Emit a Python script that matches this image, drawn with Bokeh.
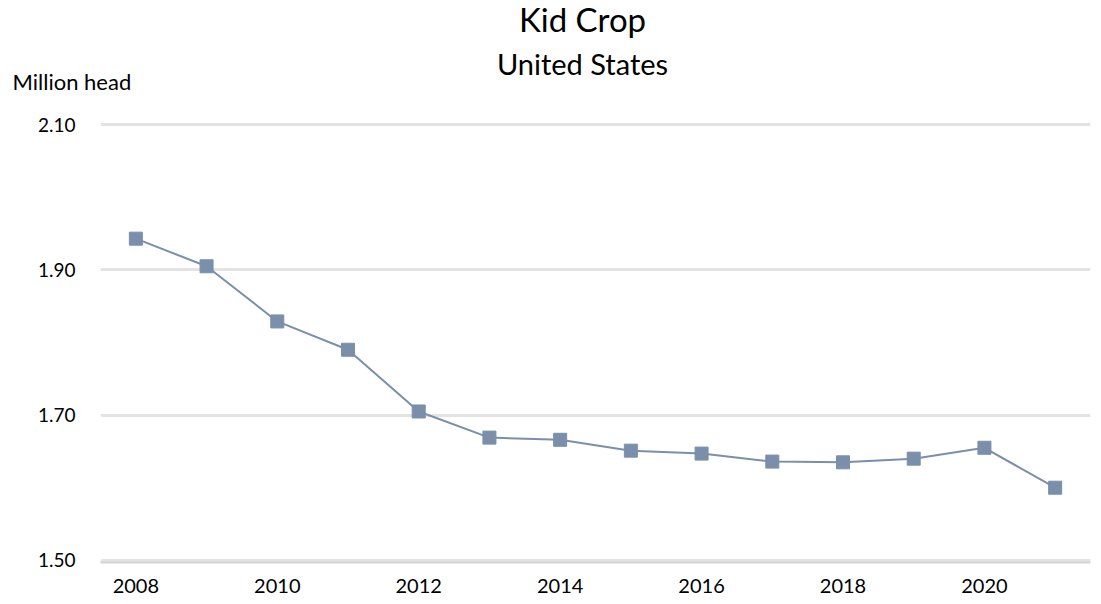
from bokeh.plotting import figure
from bokeh.models import Range1d, FixedTicker, Label, PrintfTickFormatter
from bokeh.embed import file_html
from bokeh.resources import INLINE

years = [2008, 2009, 2010, 2011, 2012, 2013, 2014, 2015, 2016, 2017, 2018, 2019, 2020, 2021]
kid_crop = [1.943, 1.905, 1.829, 1.790, 1.705, 1.669, 1.666, 1.651, 1.647, 1.636, 1.635, 1.640, 1.655, 1.600]
x_ticks = [2008, 2010, 2012, 2014, 2016, 2018, 2020]
y_ticks = [1.50, 1.70, 1.90, 2.10]
title_text = "Kid Crop"
subtitle_text = "United States"
unit_text = "Million head"

FONT = "Lato"
COLOR = "#7A8FAA"
W = 1093
H_TOP = 100
H_MAIN = 496

# header strip (titles and unit label); its frame spans the whole strip, y grows downward in px
top = figure(width=W, height=H_TOP, output_backend="svg", toolbar_location=None,
             x_range=Range1d(0, W), y_range=Range1d(H_TOP, 0),
             x_axis_type=None, y_axis_type=None,
             min_border_left=0, min_border_right=0, min_border_top=0, min_border_bottom=0)
top.outline_line_color = None
top.xgrid.grid_line_color = None
top.ygrid.grid_line_color = None
top.add_layout(Label(x=582, y=18, text=title_text, text_align="center", text_baseline="alphabetic",
                     text_font=FONT, text_font_size="33px", text_color="#000000"))
top.add_layout(Label(x=582, y=63, text=subtitle_text, text_align="center", text_baseline="alphabetic",
                     text_font=FONT, text_font_size="29px", text_color="#000000"))
top.add_layout(Label(x=12, y=81, text=unit_text, text_align="left", text_baseline="alphabetic",
                     text_font=FONT, text_font_size="22px", text_color="#000000"))

p = figure(width=W, height=H_MAIN, output_backend="svg", toolbar_location=None,
           x_range=Range1d(2007.5, 2021.5), y_range=Range1d(1.497, 2.103),
           min_border_left=100, min_border_right=3, min_border_top=22, min_border_bottom=34)
p.outline_line_color = None
p.xgrid.grid_line_color = None
p.ygrid.grid_line_color = "#E3E3E3"
p.ygrid.grid_line_width = 3
p.ygrid.ticker = FixedTicker(ticks=y_ticks)

p.yaxis.ticker = FixedTicker(ticks=y_ticks)
p.yaxis.formatter = PrintfTickFormatter(format="%.2f")
p.yaxis.axis_line_color = None
p.yaxis.major_tick_line_color = None
p.yaxis.minor_tick_line_color = None
p.yaxis.major_label_standoff = 19
p.yaxis.major_label_text_font = FONT
p.yaxis.major_label_text_font_size = "19px"
p.yaxis.major_label_text_color = "#000000"

p.xaxis.ticker = FixedTicker(ticks=x_ticks)
p.xaxis.axis_line_color = "#D4D4D4"
p.xaxis.axis_line_width = 2
p.xaxis.major_tick_line_color = None
p.xaxis.minor_tick_line_color = None
p.xaxis.major_label_standoff = 10
p.xaxis.major_label_text_font = FONT
p.xaxis.major_label_text_font_size = "20px"
p.xaxis.major_label_text_color = "#000000"

p.line(years, kid_crop, line_color=COLOR, line_width=2)
p.scatter(years, kid_crop, marker="square", size=13, fill_color=COLOR, line_color=COLOR)

open("out.html", "w").write(file_html([top, p], INLINE))
